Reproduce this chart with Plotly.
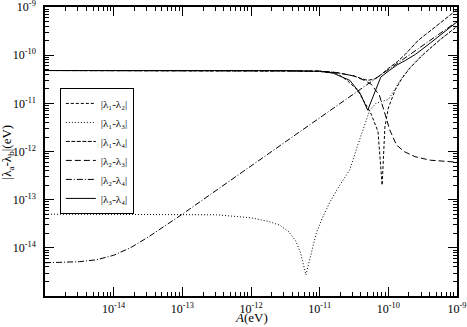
import plotly.graph_objects as go

# |λ1-λ2|
A_12 = [1e-15, 1e-13, 1e-12, 3.16e-12, 1e-11, 1.78e-11, 2.51e-11, 3.55e-11, 4.27e-11, 5.62e-11,
        7.08e-11, 8.13e-11, 8.91e-11, 1e-10, 1.26e-10, 1.58e-10, 2.09e-10, 3.16e-10, 5.62e-10, 1e-9]
v_12 = [4.8e-11, 4.8e-11, 4.8e-11, 4.78e-11, 4.6e-11, 4.2e-11, 3.0e-11, 1.9e-11, 1.2e-11, 6.0e-12,
        2.6e-12, 2.0e-13, 3.2e-12, 8.0e-12, 1.9e-11, 3.3e-11, 5.5e-11, 1.01e-10, 2.07e-10, 3.95e-10]

# |λ1-λ3|
A_13 = [1e-15, 1e-14, 1e-13, 3.16e-13, 1e-12, 1.78e-12, 2.63e-12, 3.55e-12, 4.47e-12, 5.25e-12,
        6.31e-12, 7.59e-12, 8.91e-12, 1.12e-11, 1.41e-11, 1.78e-11, 2.75e-11, 3.55e-11, 4.27e-11,
        5.37e-11, 6.61e-11, 8.13e-11, 1e-10, 1.26e-10, 1.58e-10, 2.09e-10, 3.16e-10, 5.62e-10, 1e-9]
v_13 = [5.0e-14, 5.0e-14, 5.0e-14, 4.85e-14, 4.2e-14, 3.55e-14, 2.95e-14, 2.15e-14, 1.4e-14, 8.0e-15,
        2.75e-15, 8.5e-15, 2.0e-14, 4.5e-14, 8.9e-14, 1.6e-13, 4.2e-13, 1.3e-12, 2.8e-12,
        7.2e-12, 1.0e-11, 1.1e-11, 1.2e-11, 2.0e-11, 3.4e-11, 5.6e-11, 1.02e-10, 2.08e-10, 3.96e-10]

# |λ1-λ4|
A_14 = [1e-15, 1e-13, 1e-12, 3.16e-12, 1e-11, 1.78e-11, 3.16e-11, 3.98e-11, 5.01e-11, 6.31e-11,
        7.94e-11, 1e-10, 1.35e-10, 1.78e-10, 2.69e-10, 3.16e-10, 5.62e-10, 1e-9]
v_14 = [4.8e-11, 4.8e-11, 4.8e-11, 4.77e-11, 4.65e-11, 4.35e-11, 3.7e-11, 3.3e-11, 3.0e-11, 3.2e-11,
        4.0e-11, 5.3e-11, 7.3e-11, 1.05e-10, 2.0e-10, 2.4e-10, 4.7e-10, 8.8e-10]

# |λ2-λ3|
A_23 = [1e-15, 1e-13, 1e-12, 3.16e-12, 1e-11, 1.78e-11, 3.16e-11, 4.47e-11, 5.62e-11, 7.41e-11,
        8.71e-11, 1.05e-10, 1.32e-10, 1.74e-10, 2.45e-10, 4.07e-10, 1e-9]
v_23 = [4.8e-11, 4.8e-11, 4.8e-11, 4.78e-11, 4.7e-11, 4.35e-11, 3.7e-11, 3.0e-11, 2.5e-11, 1.48e-11,
        7.2e-12, 2.8e-12, 1.35e-12, 9.8e-13, 7.8e-13, 6.6e-13, 6.0e-13]

# |λ2-λ4|
A_24 = [1e-15, 1.78e-15, 3.16e-15, 5.62e-15, 1e-14, 1.78e-14, 3.16e-14, 1e-13, 3.16e-13, 1e-12,
        3.16e-12, 1e-11, 3.16e-11, 5.01e-11, 1e-10, 3.16e-10, 1e-9]
v_24 = [4.9e-15, 5.0e-15, 5.15e-15, 5.65e-15, 7.0e-15, 1.015e-14, 1.66e-14, 5.0e-14, 1.58e-13, 5.0e-13,
        1.58e-12, 5.0e-12, 1.58e-11, 2.5e-11, 5.0e-11, 1.58e-10, 5.0e-10]

# |λ3-λ4|
A_34 = [1e-15, 1e-13, 1e-12, 3.16e-12, 1e-11, 1.55e-11, 2.75e-11, 3.89e-11, 5.01e-11, 6.46e-11,
        7.76e-11, 1.05e-10, 1.35e-10, 1.78e-10, 2.51e-10, 4.07e-10, 6.31e-10, 1e-9]
v_34 = [4.8e-11, 4.8e-11, 4.8e-11, 4.78e-11, 4.6e-11, 4.27e-11, 3.0e-11, 1.62e-11, 7.2e-12, 1.74e-11,
        3.5e-11, 4.9e-11, 6.3e-11, 7.8e-11, 1.05e-10, 1.78e-10, 2.9e-10, 4.9e-10]

names = ["|λ₁-λ₂|", "|λ₁-λ₃|", "|λ₁-λ₄|", "|λ₂-λ₃|", "|λ₂-λ₄|", "|λ₃-λ₄|"]
series = [(A_12, v_12), (A_13, v_13), (A_14, v_14), (A_23, v_23), (A_24, v_24), (A_34, v_34)]
dashes = ["3px,2px", "1px,2px", "4px,1.5px", "6px,3px", "6px,2px,1px,2px", "solid"]

decades = [1e-14, 1e-13, 1e-12, 1e-11, 1e-10, 1e-9]
decade_labels = ["10<sup>-14</sup>", "10<sup>-13</sup>", "10<sup>-12</sup>",
                 "10<sup>-11</sup>", "10<sup>-10</sup>", "10<sup>-9</sup>"]
minor_vals = [k * 10.0 ** n for n in range(-15, -9) for k in range(2, 10)]

fig = go.Figure()
for (xs, ys), nm, ds in zip(series, names, dashes):
    fig.add_trace(go.Scatter(x=xs, y=ys, mode="lines", name=nm,
                             line=dict(color="black", width=1, dash=ds)))

font = dict(family="Liberation Serif", size=13, color="black")
tick_font = dict(family="Liberation Serif", size=12, color="black")
axis_style = dict(type="log", showgrid=False, zeroline=False, showline=True, linecolor="black",
                  linewidth=1.5, mirror="allticks", ticks="inside", ticklen=9, tickcolor="black",
                  tickmode="array", tickvals=decades, ticktext=decade_labels, tickfont=tick_font,
                  automargin=False, range=[-15.0005, -8.9995], ticklabeloverflow="allow",
                  minor=dict(ticks="inside", ticklen=4, tickcolor="black", tickmode="array",
                             tickvals=minor_vals, showgrid=False))

fig.update_layout(
    width=467, height=327,
    margin=dict(l=45, r=10, t=7, b=31),
    paper_bgcolor="white", plot_bgcolor="white",
    font=font,
    showlegend=True,
    legend=dict(x=0.036, y=0.72, xanchor="left", yanchor="top", bordercolor="black", borderwidth=1,
                bgcolor="white", font=dict(family="Liberation Serif", size=11), tracegroupgap=0,
                itemwidth=30),
)
fig.update_xaxes(axis_style, ticklabelstandoff=1)
fig.update_yaxes(axis_style, ticklabelstandoff=5)

fig.add_annotation(text="<i>A</i>(eV)", xref="paper", yref="paper", x=0.5, y=-0.107,
                   xanchor="center", yanchor="bottom", showarrow=False, font=font)
fig.add_annotation(text="|λ<sub>a</sub>-λ<sub>b</sub>|(eV)", xref="paper", yref="paper",
                   x=-0.09, y=0.5, xanchor="center", yanchor="middle", textangle=-90,
                   showarrow=False, font=font)

fig.write_html("out.html", config={"displayModeBar": False},
               post_script="document.body.style.margin='0px';")
